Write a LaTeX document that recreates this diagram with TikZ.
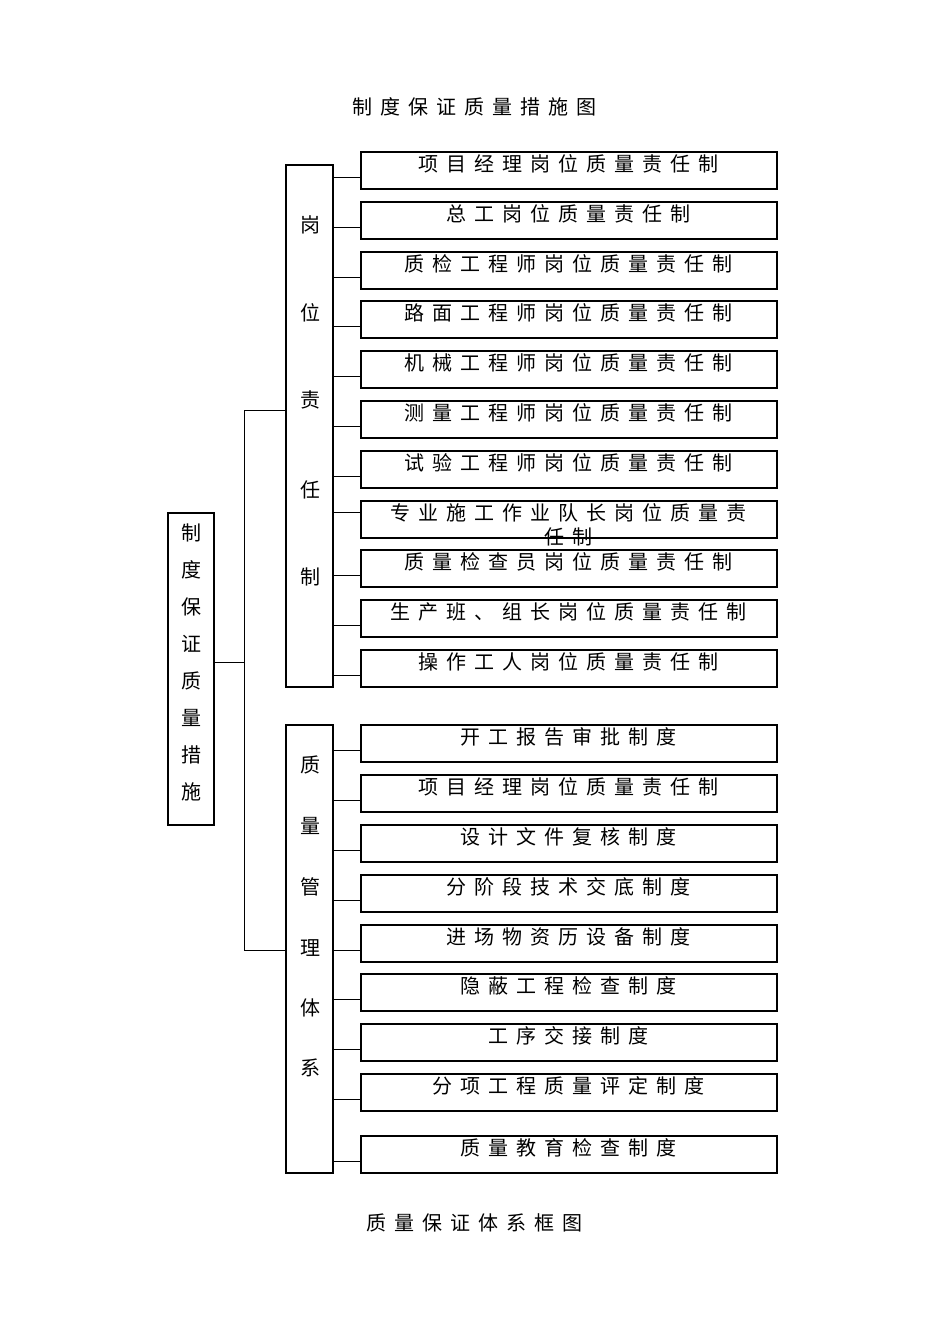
\documentclass[tikz,border=0pt]{standalone}
\usepackage{fontspec}
\setmainfont{Noto Sans CJK SC}
\newfontfamily\cjk[LetterSpace=40]{Noto Sans CJK SC}
\begin{document}
\begin{tikzpicture}[x=1pt,y=-1pt,
  bx/.style={draw,line width=1.2pt},
  ln/.style={line width=0.8pt},
  tx/.style={font=\cjk\fontsize{20}{22}\selectfont,inner sep=0pt}]
\useasboundingbox (0,0) rectangle (950,1344);
\node[tx] (t1) at (474,107) {制度保证质量措施图};
\node[tx] (t2) at (474,1223) {质量保证体系框图};
\draw[bx] (168,513) rectangle (214,825);
\foreach \c [count=\i] in {制,度,保,证,质,量,措,施}
  \node[font=\fontsize{20}{22}\selectfont] at (191,496+\i*37) {\c};
\draw[bx] (286,165) rectangle (333,687);
\foreach \c/\y in {岗/225,位/313,责/400,任/490,制/577}
  \node[font=\fontsize{20}{22}\selectfont] at (310,\y) {\c};
\draw[bx] (286,725) rectangle (333,1173);
\foreach \c/\y in {质/765,量/826,管/887,理/948,体/1008,系/1068}
  \node[font=\fontsize{20}{22}\selectfont] at (310,\y) {\c};
\draw[ln] (214,662) -- (244,662);
\draw[ln] (286,410) -- (244,410) -- (244,950) -- (286,950);
\foreach \t/\txt in {152/项目经理岗位质量责任制,202/总工岗位质量责任制,252/质检工程师岗位质量责任制,301/路面工程师岗位质量责任制,351/机械工程师岗位质量责任制,401/测量工程师岗位质量责任制,451/试验工程师岗位质量责任制,550/质量检查员岗位质量责任制,600/{生产班、组长岗位质量责任制},650/操作工人岗位质量责任制,725/开工报告审批制度,775/项目经理岗位质量责任制,825/设计文件复核制度,875/分阶段技术交底制度,925/进场物资历设备制度,974/隐蔽工程检查制度,1024/工序交接制度,1074/分项工程质量评定制度,1136/质量教育检查制度}{
  \draw[bx] (361,\t) rectangle (777,\t+37);
  \node[tx] at (568,\t+12) {\txt};
  \draw[ln] (333,\t+25) -- (361,\t+25);
}
\draw[bx] (361,501) rectangle (777,538);
\node[tx] at (568,513) {专业施工作业队长岗位质量责};
\node[tx] at (568,537) {任制};
\draw[ln] (333,512) -- (361,512);
\end{tikzpicture}
\end{document}
